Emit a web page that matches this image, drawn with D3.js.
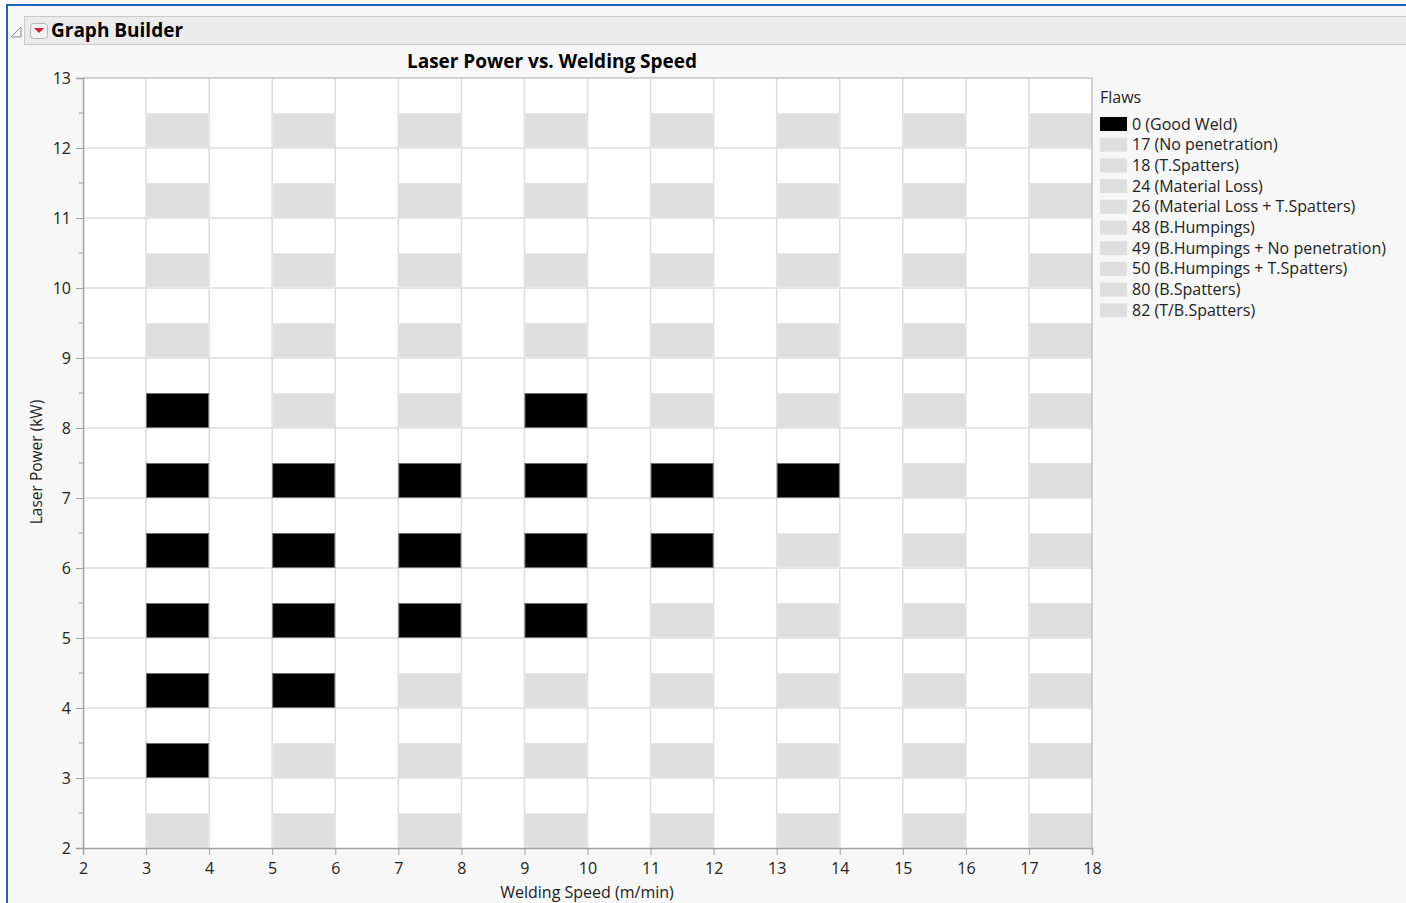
<!DOCTYPE html>
<html>
<head>
<meta charset="utf-8">
<script src="https://cdn.jsdelivr.net/npm/d3@7"></script>
<style>
	body { margin: 0; background: #ffffff; }
	svg { display: block; font-family: "Open Sans", "Noto Sans", sans-serif; }
</style>
</head>
<body>
<svg id="chart"></svg>
<script>
// welding speeds (left edge of each cell, m/min) and laser powers (bottom edge, kW)
const speeds = [3, 5, 7, 9, 11, 13, 15, 17];
const powers = [12, 11, 10, 9, 8, 7, 6, 5, 4, 3, 2];

// flaw code per cell, one row per power (top to bottom), one column per speed
const flaws = [
	[82, 82, 80, 80, 18, 18, 18, 18],
	[82, 80, 80, 18, 18, 18, 18, 50],
	[80, 80, 26, 26, 18, 18, 50, 50],
	[26, 26, 24, 24, 18, 50, 50, 50],
	[0, 24, 24, 0, 18, 50, 48, 48],
	[0, 0, 0, 0, 0, 0, 48, 48],
	[0, 0, 0, 0, 0, 48, 48, 49],
	[0, 0, 0, 0, 48, 48, 49, 49],
	[0, 0, 17, 17, 49, 49, 49, 17],
	[0, 17, 17, 17, 17, 17, 17, 17],
	[17, 17, 17, 17, 17, 17, 17, 17]
];

const flawCodes = [0, 17, 18, 24, 26, 48, 49, 50, 80, 82];
const flawLabels = ["0 (Good Weld)", "17 (No penetration)", "18 (T.Spatters)", "24 (Material Loss)",
	"26 (Material Loss + T.Spatters)", "48 (B.Humpings)", "49 (B.Humpings + No penetration)",
	"50 (B.Humpings + T.Spatters)", "80 (B.Spatters)", "82 (T/B.Spatters)"];

const xTicks = d3.range(2, 19);
const yTicks = d3.range(2, 14);

const width = 1406;
const height = 903;
const svg = d3.select("#chart")
		.attr("width", width)
		.attr("height", height);

const color = d3.scaleOrdinal()
		.domain(flawCodes)
		.range(flawCodes.map(function(c) { return c === 0 ? "#000000" : "#dedede" }));

// window frame
svg.append("rect")
	.attr("x", 7).attr("y", 5)
	.attr("width", width).attr("height", height)
	.attr("fill", "#f7f7f7")
	.attr("stroke", "#1f5fc8")
	.attr("stroke-width", 2);

// header bar
svg.append("rect")
	.attr("x", 24.5).attr("y", 16.5)
	.attr("width", width).attr("height", 28)
	.attr("fill", "#ebebeb")
	.attr("stroke", "#c9c9c9");
svg.append("path")
	.attr("d", "M11,37 L21,37 L21,27 Z")
	.attr("fill", "#f4f4f4")
	.attr("stroke", "#8a8a8a");
svg.append("rect")
	.attr("x", 30.5).attr("y", 23.5)
	.attr("width", 17).attr("height", 15).attr("rx", 3)
	.attr("fill", "#f2f2f2")
	.attr("stroke", "#b5b5b5");
svg.append("path")
	.attr("d", "M34,28 L44,28 L39,33 Z")
	.attr("fill", "#d8192a");
svg.append("text")
	.attr("x", 51).attr("y", 37)
	.attr("font-size", 19).attr("font-weight", "bold")
	.attr("fill", "#000")
	.text("Graph Builder");

// plot area
const x = d3.scaleLinear().domain([2, 18]).range([83, 1092]);
const y = d3.scaleLinear().domain([2, 13]).range([848, 78]);

svg.append("rect")
	.attr("x", x(2)).attr("y", y(13))
	.attr("width", x(18) - x(2)).attr("height", y(2) - y(13))
	.attr("fill", "#ffffff");

svg.append("g")
	.selectAll("line")
	.data(xTicks.slice(1, -1))
	.enter()
	.append("line")
	.attr("x1", function(d) { return x(d) }).attr("x2", function(d) { return x(d) })
	.attr("y1", y(13)).attr("y2", y(2))
	.attr("stroke", "#dcdcdc").attr("stroke-width", 1.5);

svg.append("g")
	.selectAll("line")
	.data(yTicks.slice(1, -1))
	.enter()
	.append("line")
	.attr("x1", x(2)).attr("x2", x(18))
	.attr("y1", function(d) { return y(d) }).attr("y2", function(d) { return y(d) })
	.attr("stroke", "#dcdcdc").attr("stroke-width", 1.5);

// cells
const cells = [];
powers.forEach(function(p, i) {
	speeds.forEach(function(s, j) {
		cells.push({speed: s, power: p, flaw: flaws[i][j]});
	});
});

svg.append("g")
	.selectAll("rect")
	.data(cells)
	.enter()
	.append("rect")
	.attr("x", function(d) { return x(d.speed) + 0.5 })
	.attr("y", function(d) { return y(d.power + 0.5) + 0.5 })
	.attr("width", function(d) { return x(d.speed + 1) - x(d.speed) - 1 })
	.attr("height", function(d) { return y(d.power) - y(d.power + 0.5) - 1 })
	.attr("fill", function(d) { return color(d.flaw) })
	.attr("stroke", function(d) { return d.flaw === 0 ? "#6e6e6e" : "#e6e6e6" })
	.attr("stroke-width", 1);

// frame
svg.append("path")
	.attr("d", "M" + x(2) + "," + y(13) + " H" + x(18) + " V" + y(2))
	.attr("fill", "none")
	.attr("stroke", "#c4c4c4").attr("stroke-width", 1.5);

// axes
const xAxis = svg.append("g")
		.attr("transform", "translate(0," + y(2) + ")")
		.call(d3.axisBottom(x).tickValues(xTicks).tickFormat(d3.format("d")).tickSize(7).tickPadding(8));
const yAxis = svg.append("g")
		.attr("transform", "translate(" + x(2) + ",0)")
		.call(d3.axisLeft(y).tickValues(yTicks).tickFormat(d3.format("d")).tickSize(7).tickPadding(5));

svg.append("g")
	.selectAll("line")
	.data(yTicks.slice(0, -1).map(function(d) { return d + 0.5 }))
	.enter()
	.append("line")
	.attr("x1", x(2) - 4).attr("x2", x(2))
	.attr("y1", function(d) { return y(d) }).attr("y2", function(d) { return y(d) })
	.attr("stroke", "#a0a0a0");

[xAxis, yAxis].forEach(function(g) {
	g.select(".domain").attr("stroke", "#a0a0a0").attr("stroke-width", 1.5);
	g.selectAll(".tick line").attr("stroke", "#a0a0a0");
	g.selectAll(".tick text")
		.attr("font-family", "'Open Sans', 'Noto Sans', sans-serif")
		.attr("font-size", 16)
		.attr("fill", "#222");
});

// titles
svg.append("text")
	.attr("x", 552).attr("y", 68)
	.attr("text-anchor", "middle")
	.attr("font-size", 19).attr("font-weight", "bold")
	.text("Laser Power vs. Welding Speed");

svg.append("text")
	.attr("x", 587).attr("y", 898)
	.attr("text-anchor", "middle")
	.attr("font-size", 16).attr("fill", "#222")
	.text("Welding Speed (m/min)");

svg.append("text")
	.attr("transform", "translate(42," + 462 + ") rotate(-90)")
	.attr("text-anchor", "middle")
	.attr("font-size", 15.5).attr("fill", "#222")
	.text("Laser Power (kW)");

// legend
const legend = svg.append("g");
legend.append("text")
	.attr("x", 1100).attr("y", 103)
	.attr("font-size", 16).attr("fill", "#222")
	.text("Flaws");

const rows = legend.selectAll("g.row")
		.data(flawCodes)
		.enter()
		.append("g")
		.attr("class", "row")
		.attr("transform", function(d, i) { return "translate(1100," + (124 + i * 20.7) + ")" });
rows.append("rect")
	.attr("x", 0).attr("y", -7)
	.attr("width", 27).attr("height", 14)
	.attr("fill", function(d) { return color(d) });
rows.append("text")
	.attr("x", 32).attr("y", 5.5)
	.attr("font-size", 16).attr("fill", "#222")
	.text(function(d, i) { return flawLabels[i] });
</script>
</body>
</html>
